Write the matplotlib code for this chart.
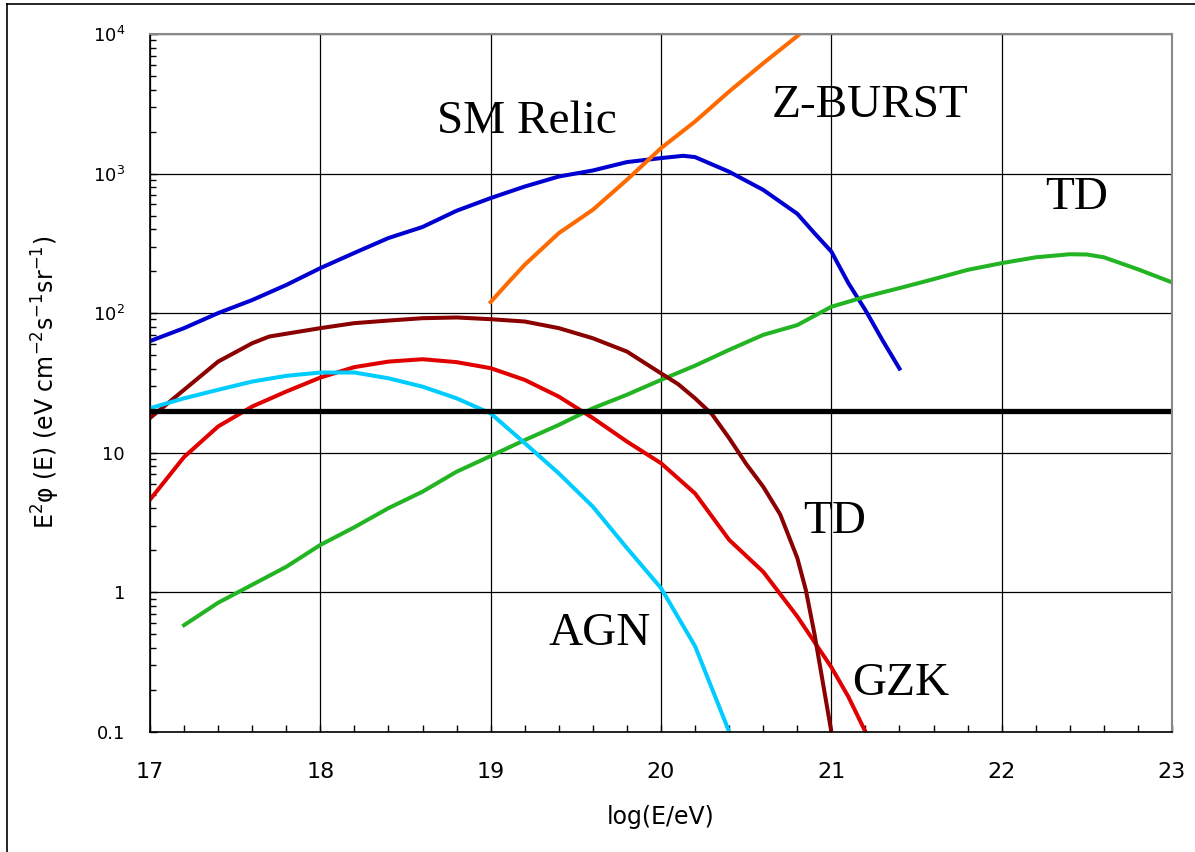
import numpy as np
import matplotlib
matplotlib.use("Agg")
import matplotlib.pyplot as plt
from matplotlib.lines import Line2D
from matplotlib.ticker import FixedLocator, NullFormatter

plt.rcParams['font.family'] = ['DejaVu Sans']
plt.rcParams['mathtext.fontset'] = 'dejavusans'

# neutrino flux models, E^2 phi(E) in eV cm^-2 s^-1 sr^-1 vs log10(E/eV)
sm_x = [17.0, 17.2, 17.4, 17.6, 17.8, 18.0, 18.2, 18.4, 18.6, 18.8, 19.0, 19.2,
        19.4, 19.6, 19.8, 20.0, 20.13, 20.2, 20.4, 20.6, 20.8, 20.9, 21.0,
        21.1, 21.2, 21.3, 21.4]
sm_y = [63, 78, 100, 124, 159, 210, 270, 345, 414, 541, 667, 807,
        952, 1052, 1208, 1290, 1340, 1312, 1030, 764, 515, 375, 276,
        164, 105, 64, 40]

zb_x = [19.0, 19.1, 19.2, 19.4, 19.6, 19.8, 20.0, 20.2, 20.4, 20.6, 20.8, 20.9]
zb_y = [120, 164, 222, 374, 550, 902, 1520, 2360, 3870, 6170, 9660, 12500]

td_hi_x = [17.2, 17.4, 17.6, 17.8, 18.0, 18.2, 18.4, 18.6, 18.8, 19.0, 19.2,
           19.4, 19.6, 19.8, 20.0, 20.2, 20.4, 20.6, 20.8, 21.0, 21.2, 21.4,
           21.6, 21.8, 22.0, 22.2, 22.4, 22.5, 22.6, 22.8, 23.0]
td_hi_y = [0.58, 0.84, 1.13, 1.52, 2.18, 2.92, 4.0, 5.25, 7.3, 9.46, 12.3,
           15.8, 20.8, 26, 33.2, 42, 54.5, 69.8, 82, 111, 131, 151,
           175, 204, 228, 251, 264, 263, 251, 206, 166]

agn_x = [17.0, 17.2, 17.4, 17.6, 17.8, 18.0, 18.2, 18.4, 18.6, 18.8, 19.0,
         19.2, 19.4, 19.6, 19.8, 20.0, 20.2, 20.4]
agn_y = [20.8, 24.5, 28.2, 32.3, 35.5, 37.5, 37.5, 34.1, 29.7, 24.5, 19.1,
         11.7, 7.1, 4.1, 2.07, 1.07, 0.41, 0.1]

gzk_x = [17.0, 17.2, 17.4, 17.6, 17.8, 18.0, 18.2, 18.4, 18.6, 18.8, 19.0,
         19.2, 19.4, 19.6, 19.8, 20.0, 20.2, 20.4, 20.6, 20.8, 21.0, 21.1, 21.2]
gzk_y = [4.6, 9.3, 15.4, 21.4, 27.4, 34.5, 41, 44.9, 46.7, 44.5, 40.3,
         33.2, 25.2, 17.7, 12, 8.4, 5.1, 2.37, 1.40, 0.67, 0.29, 0.178, 0.1]

td_lo_x = [17.0, 17.2, 17.4, 17.6, 17.7, 18.0, 18.2, 18.4, 18.6, 18.8, 19.0,
           19.2, 19.4, 19.6, 19.8, 20.0, 20.1, 20.2, 20.3, 20.4, 20.5, 20.6,
           20.7, 20.8, 20.85, 20.9, 21.0]
td_lo_y = [17.7, 28.2, 44.9, 60.8, 67.9, 78, 84.7, 88.4, 91.9, 93, 90.4,
           87, 78, 66, 53, 37, 31, 24.5, 18.8, 12.7, 8.3, 5.7,
           3.6, 1.76, 1.04, 0.51, 0.1]

limit_level = 20

labels = ["SM Relic", "Z-BURST", "TD", "TD", "AGN", "GZK"]
label_pos = [(18.685, 1960), (20.652, 2550), (22.255, 556), (20.834, 2.66),
             (19.337, 0.419), (21.121, 0.183)]

fig = plt.figure(figsize=(11.95, 8.52), dpi=100)
ax = fig.add_axes([150 / 1195, 1 - 731.7 / 852, 1022 / 1195, 697.7 / 852])

lw = 2.9
ax.plot(sm_x, sm_y, color='#0000D0', lw=lw)
ax.plot(zb_x, zb_y, color='#FF6A00', lw=lw)
ax.plot(td_hi_x, td_hi_y, color='#22B422', lw=lw)
ax.plot(gzk_x, gzk_y, color='#E00000', lw=lw)
ax.plot(td_lo_x, td_lo_y, color='#8B0000', lw=lw)
ax.plot(agn_x, agn_y, color='#00CCFF', lw=lw)
ax.axhline(limit_level, color='black', lw=3.8)

for txt, (tx, ty) in zip(labels, label_pos):
    ax.text(tx, ty, txt, family='Liberation Serif', fontsize=34,
            ha='left', va='baseline')

ax.set_yscale('log')
ax.set_xlim(17, 23)
ax.set_ylim(0.1, 1e4)

ax.set_xticks(range(17, 24))
ax.set_xticklabels([str(v) for v in range(17, 24)])
ax.xaxis.set_minor_locator(FixedLocator(np.arange(17, 23.01, 0.2)))
ax.set_yticks([0.1, 1, 10, 100, 1e3, 1e4])
ax.set_yticklabels(['0.1', '1', '10', '$10^2$', '$10^3$', '$10^4$'])
ax.yaxis.set_minor_formatter(NullFormatter())

ax.grid(True, which='major', color='black', lw=0.9)
ax.tick_params(axis='x', which='both', direction='in', length=5, width=1,
               labelsize=16, pad=22, top=False)
ax.tick_params(axis='y', which='major', direction='in', length=5, width=1,
               labelsize=13, pad=18, right=False)
ax.tick_params(axis='y', which='minor', direction='in', length=4, width=1,
               right=False)

for side in ('left', 'bottom'):
    ax.spines[side].set_color('black')
    ax.spines[side].set_linewidth(1.2)
for side in ('top', 'right'):
    ax.spines[side].set_color('#888888')
    ax.spines[side].set_linewidth(1.5)

ax.set_xlabel('log(E/eV)', fontsize=17)
ax.xaxis.set_label_coords(0.5, -0.105)
ax.set_ylabel('E$^2$φ (E) (eV cm$^{-2}$s$^{-1}$sr$^{-1}$)', fontsize=17)
ax.yaxis.set_label_coords(-0.086, 0.5)

# frame around the whole chart
fig.add_artist(Line2D([7 / 1195, 1], [1 - 4 / 852, 1 - 4 / 852],
                      transform=fig.transFigure, color='black', lw=1.2))
fig.add_artist(Line2D([7 / 1195, 7 / 1195], [0, 1 - 4 / 852],
                      transform=fig.transFigure, color='black', lw=1.2))

fig.savefig('out.png', dpi=100, facecolor='white')
